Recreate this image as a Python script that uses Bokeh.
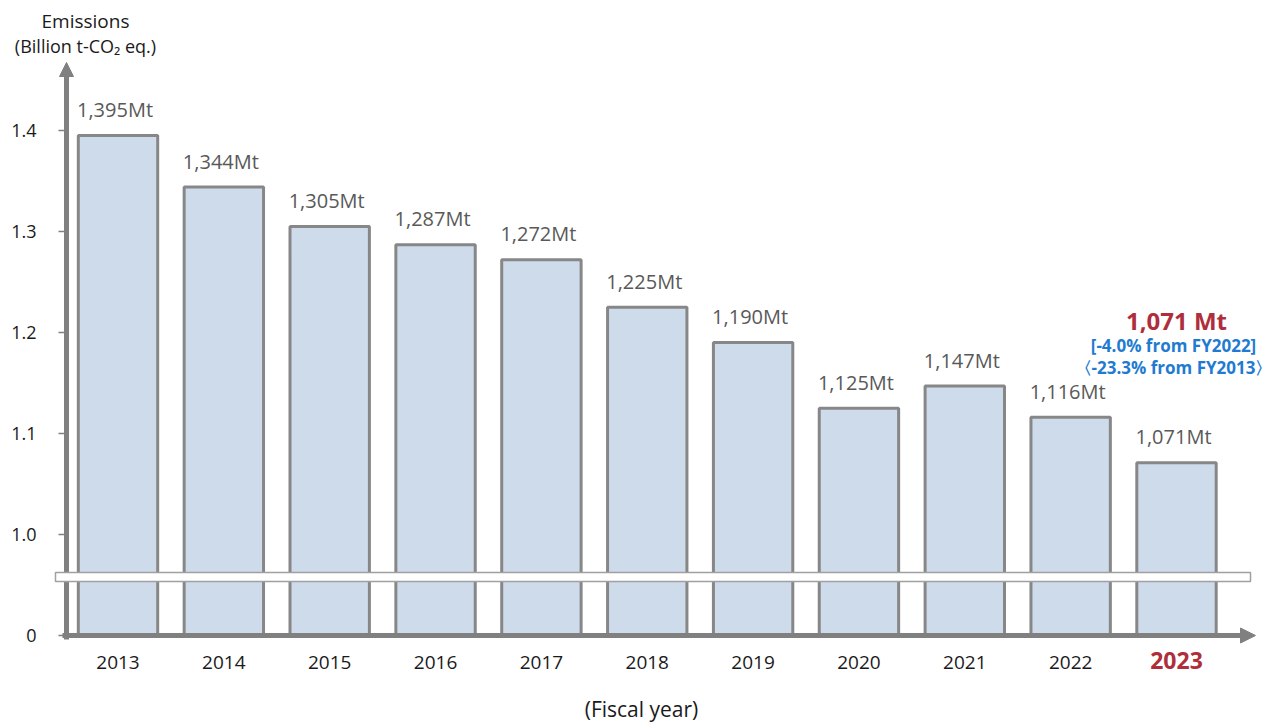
from bokeh.plotting import figure
from bokeh.models import Range1d, Arrow, NormalHead
from bokeh.embed import file_html
from bokeh.resources import INLINE
from bokeh.core.properties import value

# ---------------- data ----------------
years = [2013, 2014, 2015, 2016, 2017, 2018, 2019, 2020, 2021, 2022, 2023]
emissions_mt = [1395, 1344, 1305, 1287, 1272, 1225, 1190, 1125, 1147, 1116, 1071]
bar_labels = ["1,395Mt", "1,344Mt", "1,305Mt", "1,287Mt", "1,272Mt", "1,225Mt",
              "1,190Mt", "1,125Mt", "1,147Mt", "1,116Mt", "1,071Mt"]
y_ticks = [0.9, 1.0, 1.1, 1.2, 1.3, 1.4]          # 0.9 position is the broken-axis "0"
y_tick_labels = ["0", "1.0", "1.1", "1.2", "1.3", "1.4"]
highlight_year = 2023
highlight_value = "1,071 Mt"
change_notes = ["[-4.0% from FY2022]", "〈-23.3% from FY2013〉"]

emissions_bt = [v / 1000 for v in emissions_mt]
BASE = 0.9  # bars start at the "0" baseline of the broken axis

# ---------------- styles ----------------
FONT = "Open Sans"
AXIS_GRAY = "#808080"
BAR_FILL = "#CEDBEB"
BAR_LINE = "#878787"
LABEL_GRAY = "#595959"
RED = "#AE2F3B"
BLUE = "#1F7BD1"
TEXT = "#1a1a1a"

W, H = 1274, 722
# layout helpers: canvas pixel -> data coordinate (frame covers the whole canvas)
PX_PER_YEAR = 105.85
PX_PER_UNIT = 1010.0
def X(px):
    return 2013 + (px - 117.5) / PX_PER_YEAR
def Y(py):
    return 1.4 - (py - 130) / PX_PER_UNIT

p = figure(width=W, height=H, output_backend="svg", toolbar_location=None,
           x_range=Range1d(X(0), X(W)), y_range=Range1d(Y(H), Y(0)),
           min_border=0, title_location=None)
p.outline_line_color = None
p.xgrid.grid_line_color = None
p.ygrid.grid_line_color = None
p.xaxis.visible = False
p.yaxis.visible = False
p.background_fill_color = "white"
p.border_fill_color = "white"

# bars
p.vbar(x=years, top=emissions_bt, bottom=BASE, width=0.75,
       fill_color=BAR_FILL, line_color=BAR_LINE, line_width=3)

# value labels above bars
p.text(x=years, y=[v + 26 / PX_PER_UNIT for v in emissions_bt], text=bar_labels,
       x_offset=-3, text_align="center", text_baseline="middle",
       text_font=value(FONT), text_font_size="20px", text_color=LABEL_GRAY)

# axis lines with arrow heads
p.segment(x0=[X(66)], y0=[Y(639)], x1=[X(66)], y1=[Y(75)],
          line_color=AXIS_GRAY, line_width=5)
p.add_layout(Arrow(x_start=X(66), y_start=Y(120), x_end=X(66), y_end=Y(62),
                   line_alpha=0,
                   end=NormalHead(size=14, fill_color=AXIS_GRAY, line_color=AXIS_GRAY, line_width=1)))
p.segment(x0=[X(62)], y0=[BASE], x1=[X(1241)], y1=[BASE],
          line_color=AXIS_GRAY, line_width=5)
p.add_layout(Arrow(x_start=X(1200), y_start=BASE, x_end=X(1255), y_end=BASE,
                   line_alpha=0,
                   end=NormalHead(size=15, fill_color=AXIS_GRAY, line_color=AXIS_GRAY, line_width=1)))

# y ticks and labels
p.segment(x0=[X(58)] * len(y_ticks), y0=y_ticks, x1=[X(64)] * len(y_ticks), y1=y_ticks,
          line_color=AXIS_GRAY, line_width=1.5)
p.text(x=[X(36)] * len(y_ticks), y=y_ticks, text=y_tick_labels,
       text_align="right", text_baseline="middle",
       text_font=value(FONT), text_font_size="18px", text_color=TEXT)

# axis break band
p.quad(left=[X(55)], right=[X(1250)], bottom=[Y(581)], top=[Y(572)],
       fill_color="white", line_color="#A0A0A0", line_width=1.5)

# x category labels
reg_years = [y for y in years if y != highlight_year]
p.text(x=reg_years, y=[Y(661.5)] * len(reg_years), text=[str(y) for y in reg_years],
       text_align="center", text_baseline="middle",
       text_font=value(FONT), text_font_size="19px", text_color=TEXT)
p.text(x=[highlight_year], y=[Y(660)], text=[str(highlight_year)],
       text_align="center", text_baseline="middle", text_font_style="bold",
       text_font=value(FONT), text_font_size="23px", text_color=RED)

# axis titles
p.text(x=[X(85)], y=[Y(20)], text=["Emissions"], text_align="center", text_baseline="middle",
       text_font=value(FONT), text_font_size="19px", text_color=TEXT)
p.text(x=[X(85)], y=[Y(45)], text=["(Billion t-CO₂ eq.)"], text_align="center",
       text_baseline="middle", text_font=value(FONT), text_font_size="18px", text_color=TEXT)
p.text(x=[X(641)], y=[Y(708)], text=["(Fiscal year)"], text_align="center",
       text_baseline="middle", text_font=value(FONT), text_font_size="21px", text_color=TEXT)

# annotation for the latest year
p.text(x=[highlight_year], y=[Y(320)], text=[highlight_value], text_align="center",
       text_baseline="middle", text_font_style="bold",
       text_font=value(FONT), text_font_size="24px", text_color=RED)
p.text(x=[highlight_year, highlight_year], y=[Y(345), Y(367)], text=change_notes,
       x_offset=-3, text_align="center", text_baseline="middle", text_font_style="bold",
       text_font=value(FONT), text_font_size="17px", text_color=BLUE)

open("out.html", "w").write(file_html(p, INLINE))
